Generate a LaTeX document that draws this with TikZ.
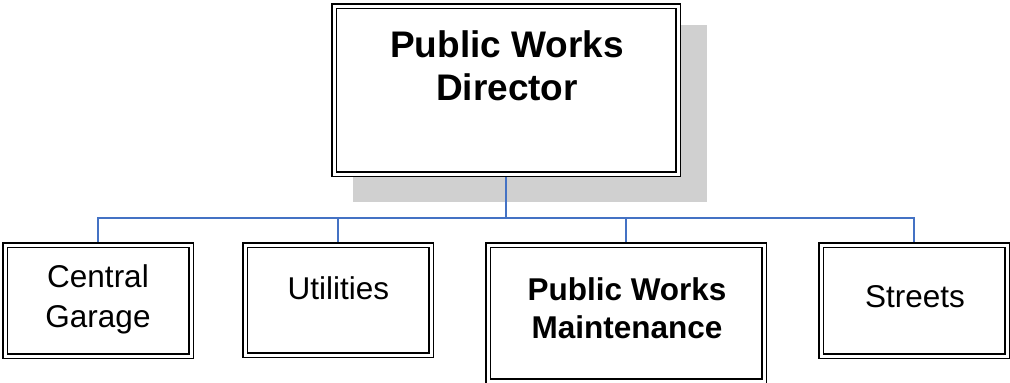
\documentclass[tikz,border=0pt]{standalone}
\usepackage{fontspec}
\setmainfont{Liberation Sans}
\definecolor{linkblue}{HTML}{4472C4}
\definecolor{shadowgray}{HTML}{D0D0D0}
\pgfdeclarelayer{background}
\pgfsetlayers{background,main}
\begin{document}
\begin{tikzpicture}[x=1pt,y=-1pt,
  box/.style={draw=black,double=white,double distance=3pt,line width=1.4pt,fill=white,inner sep=0pt},
  link/.style={draw=linkblue,line width=1.6pt},
  big/.style={font=\fontsize{37}{43}\selectfont\bfseries,anchor=base,inner sep=0pt},
  small/.style={font=\fontsize{31.5}{38}\selectfont,anchor=base,inner sep=0pt},
  smallb/.style={font=\fontsize{31.5}{38}\selectfont\bfseries,anchor=base,inner sep=0pt}]
\useasboundingbox (0,0) rectangle (1010,383);
% boxes
\node[box,minimum width=344pt,minimum height=168pt] (dir) at (506,90) {};
\node[box,minimum width=186pt,minimum height=111pt] (cg) at (98,300.5) {};
\node[box,minimum width=186pt,minimum height=110pt] (ut) at (338,300) {};
\node[box,minimum width=276pt,minimum height=136pt] (pwm) at (626,313) {};
\node[box,minimum width=186pt,minimum height=111pt] (st) at (914,300.5) {};
% shadow and connectors behind the boxes
\coordinate (bus) at (506,218);
\begin{pgfonlayer}{background}
\fill[shadowgray] (353,25) rectangle (707,202);
\draw[link] (dir.south) -- (bus);
\draw[link] (bus) -| (cg.north);
\draw[link] (bus) -| (ut.north);
\draw[link] (bus) -| (pwm.north);
\draw[link] (bus) -| (st.north);
\end{pgfonlayer}
% texts
\node[big] (dirA) at (507,57) {Public Works};
\node[big] (dirB) at (507,100) {Director};
\node[small] (cgA) at (98,287) {Central};
\node[small] (cgB) at (98,327) {Garage};
\node[small] (utA) at (338.5,299) {Utilities};
\node[smallb] (pwmA) at (627,300) {Public Works};
\node[smallb] (pwmB) at (627,338) {Maintenance};
\node[small] (stA) at (915,307) {Streets};
\end{tikzpicture}
\end{document}
